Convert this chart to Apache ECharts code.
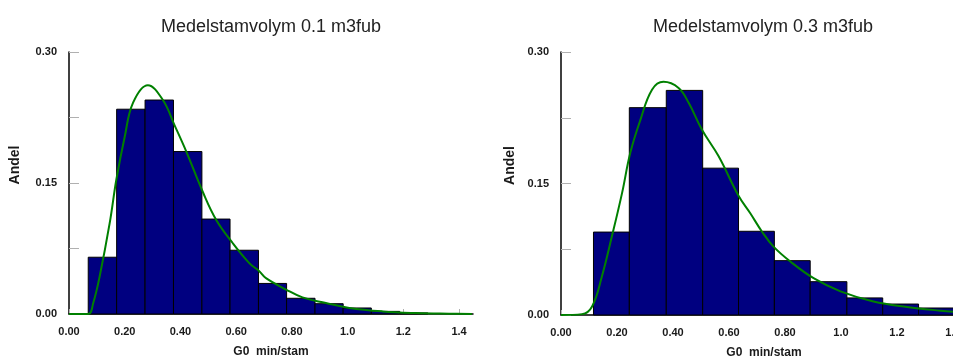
<!DOCTYPE html>
<html>
<head>
<meta charset="utf-8">
<script src="https://cdn.jsdelivr.net/npm/echarts@6/dist/echarts.min.js"></script>
<style>html,body{margin:0;padding:0;background:#fff}#c{width:953px;height:358px}</style>
</head>
<body>
<div id="c"></div>
<script>
// ---- data ----
const titles = ['Medelstamvolym 0.1 m3fub', 'Medelstamvolym 0.3 m3fub'];
const xName = 'G0  min/stam';
const yName = 'Andel';
const yTicks = [0, 0.15, 0.30];

// histogram: bin edges and shares (left chart)
const leftEdges = [0.069, 0.171, 0.273, 0.375, 0.477, 0.578, 0.680, 0.781, 0.883, 0.984, 1.085, 1.187, 1.288];
const leftShares = [0.065, 0.2345, 0.245, 0.186, 0.1087, 0.073, 0.035, 0.018, 0.0118, 0.0069, 0.003, 0.0012];
// fitted density curve (left chart)
const leftCurveX = [0, 0.069, 0.087, 0.110, 0.146, 0.170, 0.200, 0.230, 0.283, 0.337, 0.379, 0.421, 0.480, 0.528, 0.588, 0.648, 0.683, 0.707, 0.779, 0.838, 0.922, 1.006, 1.125, 1.245, 1.364, 1.446];
const leftCurveY = [0, 0, 0.0126, 0.043, 0.104, 0.154, 0.203, 0.242, 0.262, 0.245, 0.216, 0.186, 0.140, 0.108, 0.081, 0.058, 0.049, 0.041, 0.028, 0.019, 0.0126, 0.007, 0.003, 0.0011, 0.0003, 0];

// histogram (right chart)
const rightEdges = [0.116, 0.244, 0.376, 0.506, 0.634, 0.762, 0.890, 1.021, 1.149, 1.277, 1.405];
const rightShares = [0.0946, 0.2365, 0.2562, 0.1675, 0.0955, 0.062, 0.038, 0.0195, 0.0125, 0.008];
// fitted density curve (right chart)
const rightCurveX = [0, 0.075, 0.111, 0.146, 0.182, 0.218, 0.2475, 0.283, 0.325, 0.366, 0.420, 0.456, 0.504, 0.563, 0.634, 0.676, 0.718, 0.759, 0.819, 0.902, 0.998, 1.116, 1.236, 1.355, 1.401, 1.45];
const rightCurveY = [0, 0.001, 0.0098, 0.044, 0.090, 0.139, 0.185, 0.222, 0.257, 0.266, 0.259, 0.242, 0.211, 0.181, 0.136, 0.116, 0.095, 0.078, 0.061, 0.042, 0.027, 0.0155, 0.0092, 0.0049, 0.0037, 0.003];

// ---- build ----
const chart = echarts.init(document.getElementById('c'), null, {renderer: 'canvas'});
const font = 'Liberation Sans, Arial, sans-serif';

function hist(edges, shares) {
  return shares.map((v, i) => [edges[i], edges[i + 1], v]);
}
function curve(xs, ys) { return xs.map((x, i) => [x, ys[i]]); }

const grids = [
  {left: 69, top: 52, width: 404, height: 262, outerBoundsMode: 'none', containLabel: false},
  {left: 561, top: 52, width: 406, height: 263, outerBoundsMode: 'none', containLabel: false}
];

function xAxis(i) {
  return {
    type: 'value', gridIndex: i, min: 0, max: 1.45, interval: 0.2,
    name: xName, nameLocation: 'middle', nameGap: 32,
    nameTextStyle: {fontFamily: font, fontWeight: 'bold', fontSize: 12, color: '#1a1a1a'},
    axisLine: {show: true, onZero: false, lineStyle: {color: '#000', width: 1.5}},
    axisTick: {show: true, inside: true, length: 5, lineStyle: {color: '#b0b0b0'}},
    splitLine: {show: false},
    axisLabel: {
      margin: 12, fontFamily: font, fontWeight: 'bold', fontSize: 11, color: '#1a1a1a',
      showMaxLabel: false, hideOverlap: false,
      formatter: v => (v < 0.99 ? v.toFixed(2) : v.toFixed(1))
    }
  };
}
function yAxis(i, gap) {
  return {
    type: 'value', gridIndex: i, min: yTicks[0], max: yTicks[2], interval: yTicks[1],
    name: yName, nameLocation: 'middle', nameGap: gap, nameRotate: 90,
    nameTextStyle: {fontFamily: font, fontWeight: 'bold', fontSize: 14, color: '#1a1a1a', padding: [0, 0, 0, 36]},
    axisLine: {show: true, lineStyle: {color: '#000', width: 1.5}},
    axisTick: {show: true, inside: true, length: 10, lineStyle: {color: '#b0b0b0'}},
    minorTick: {show: true, splitNumber: 2, length: 10, lineStyle: {color: '#b0b0b0'}},
    splitLine: {show: false},
    axisLabel: {margin: 12, fontFamily: font, fontWeight: 'bold', fontSize: 11, color: '#1a1a1a',
      formatter: v => v.toFixed(2)}
  };
}

function renderBar(params, api) {
  const p0 = api.coord([api.value(0), api.value(2)]);
  const p1 = api.coord([api.value(1), 0]);
  return {
    type: 'rect',
    shape: {x: p0[0], y: p0[1], width: p1[0] - p0[0], height: p1[1] - p0[1]},
    style: {fill: '#000080', stroke: '#000', lineWidth: 1}
  };
}

const option = {
  animation: false,
  backgroundColor: '#fff',
  title: [
    {text: titles[0], left: 266, top: 13, textAlign: 'center',
      textStyle: {fontFamily: font, fontWeight: 'normal', fontSize: 18, color: '#222'}},
    {text: titles[1], left: 758, top: 13, textAlign: 'center',
      textStyle: {fontFamily: font, fontWeight: 'normal', fontSize: 18, color: '#222'}}
  ],
  grid: grids,
  xAxis: [xAxis(0), xAxis(1)],
  yAxis: [yAxis(0, 47), yAxis(1, 44)],
  series: [
    {type: 'custom', xAxisIndex: 0, yAxisIndex: 0, renderItem: renderBar, data: hist(leftEdges, leftShares), encode: {x: [0, 1], y: 2}, z: 2},
    {type: 'line', xAxisIndex: 0, yAxisIndex: 0, data: curve(leftCurveX, leftCurveY), smooth: 0.4, showSymbol: false,
      lineStyle: {color: '#008000', width: 2}, z: 3},
    {type: 'custom', xAxisIndex: 1, yAxisIndex: 1, renderItem: renderBar, data: hist(rightEdges, rightShares), encode: {x: [0, 1], y: 2}, z: 2},
    {type: 'line', xAxisIndex: 1, yAxisIndex: 1, data: curve(rightCurveX, rightCurveY), smooth: 0.4, showSymbol: false,
      lineStyle: {color: '#008000', width: 2}, z: 3}
  ]
};
chart.setOption(option);
</script>
</body>
</html>
